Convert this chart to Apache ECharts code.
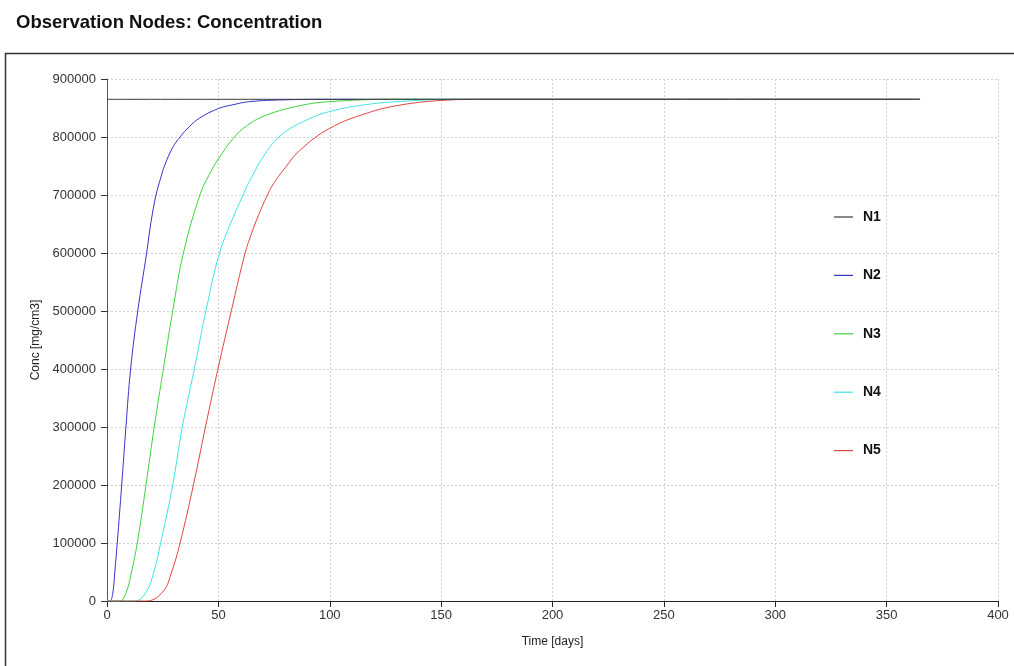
<!DOCTYPE html>
<html>
<head>
<meta charset="utf-8">
<title>Observation Nodes: Concentration</title>
<script src="https://cdn.jsdelivr.net/npm/echarts@6/dist/echarts.min.js"></script>
<style>
  html, body { margin: 0; padding: 0; background: #fff; }
  #chart { width: 1014px; height: 666px; }
</style>
</head>
<body>
<div id="chart"></div>
<script>
// series names and colours (legend order)
var nodeNames = ['N1', 'N2', 'N3', 'N4', 'N5'];
var nodeColors = ['#3a3a3a', '#3535c8', '#3ed23e', '#3fe3e3', '#e04444'];

// [time (days), concentration (mg/cm3)]
var n1 = [[0, 865000], [365, 865000]];
var n2 = [[0, 0], [1.3, 0], [2.5, 11000], [3.5, 50000], [4.6, 100000], [6.6, 200000],
  [8.5, 300000], [10.6, 400000], [13.8, 500000], [17.8, 600000], [19.7, 652000],
  [22, 700000], [24, 728000], [26, 752000], [29.5, 782000], [32.8, 800000],
  [37, 818000], [41.7, 833000], [50, 849000], [57, 856000], [64, 861000],
  [79, 864000], [100, 865000], [365, 865000]];
var n3 = [[0, 0], [5.8, 0], [8.8, 17000], [11, 50000], [13.6, 100000], [17.5, 200000],
  [21.2, 300000], [25.3, 400000], [29.5, 500000], [34.3, 600000], [41.7, 700000],
  [46, 736000], [50, 762000], [56.5, 797000], [63, 820000], [71.7, 838000],
  [86.6, 854000], [100, 861000], [130, 865000], [365, 865000]];
var n4 = [[0, 0], [12.6, 0], [17.8, 17000], [21, 50000], [24.1, 100000], [29.5, 200000],
  [33.8, 300000], [39.2, 400000], [44.4, 500000], [50.5, 600000], [56.7, 662000],
  [60.5, 695000], [64, 724000], [71.7, 775000], [79, 806000], [90, 830000],
  [100, 844000], [116.6, 856000], [134.5, 862000], [155, 865000], [365, 865000]];
var n5 = [[0, 0], [17.8, 0], [25.3, 17000], [29, 50000], [32.8, 100000], [38.8, 200000],
  [44.2, 300000], [49.8, 400000], [55.8, 500000], [62, 600000], [65, 635000],
  [68, 665000], [72, 700000], [75, 721000], [79, 742000], [86.6, 777000],
  [100, 815000], [116.6, 841000], [131.5, 855000], [150, 863000], [170, 865000],
  [365, 865000]];
var nodeData = [n1, n2, n3, n4, n5];

var chart = echarts.init(document.getElementById('chart'));
var font = "'Liberation Sans', Arial, sans-serif";

var series = nodeNames.map(function (name, i) {
  return {
    name: name,
    type: 'line',
    data: nodeData[i],
    symbol: 'none',
    smooth: 0.4,
    z: i === 0 ? 5 : 3,
    lineStyle: { color: nodeColors[i], width: 1 },
    itemStyle: { color: nodeColors[i] },
    animation: false
  };
});

var option = {
  backgroundColor: '#fff',
  animation: false,
  title: {
    text: 'Observation Nodes: Concentration',
    left: 11,
    top: 8,
    textStyle: { fontFamily: font, fontSize: 18.5, fontWeight: 'bold', color: '#111' }
  },
  // frame around the plot panel
  graphic: [{
    type: 'rect',
    shape: { x: 5.5, y: 53.5, width: 1100, height: 700 },
    style: { fill: 'none', stroke: '#333', lineWidth: 1.5 },
    silent: true
  }],
  legend: {
    orient: 'vertical',
    left: 834,
    top: 210,
    padding: 0,
    icon: 'rect',
    itemWidth: 19,
    itemHeight: 1.2,
    itemGap: 44.4,
    data: nodeNames,
    textStyle: { fontFamily: font, fontSize: 14, fontWeight: 'bold', color: '#111', padding: [0, 0, 0, 5] }
  },
  grid: { left: 107, top: 79, right: 16, bottom: 65 },
  xAxis: {
    type: 'value',
    min: 0,
    max: 400,
    interval: 50,
    name: 'Time [days]',
    nameLocation: 'middle',
    nameGap: 35,
    nameTextStyle: { fontFamily: font, fontSize: 12, color: '#222' },
    axisLine: { lineStyle: { color: '#222', width: 1 } },
    axisTick: { show: true, length: 6, lineStyle: { color: '#222' } },
    axisLabel: { fontFamily: font, fontSize: 13, color: '#333', margin: 8 },
    splitLine: { show: true, lineStyle: { color: '#cfcfcf', type: [2, 2], width: 1 } }
  },
  yAxis: {
    type: 'value',
    min: 0,
    max: 900000,
    interval: 100000,
    name: 'Conc [mg/cm3]',
    nameLocation: 'middle',
    nameGap: 61,
    nameTextStyle: { fontFamily: font, fontSize: 12, color: '#222' },
    axisLine: { show: true, lineStyle: { color: '#555', width: 1 } },
    axisTick: { show: true, length: 6, lineStyle: { color: '#333' } },
    axisLabel: {
      fontFamily: font, fontSize: 13, color: '#333', margin: 11,
      formatter: function (v) { return String(v); }
    },
    splitLine: { show: true, lineStyle: { color: '#cfcfcf', type: [2, 2], width: 1 } }
  },
  series: series
};

chart.setOption(option);
</script>
</body>
</html>
